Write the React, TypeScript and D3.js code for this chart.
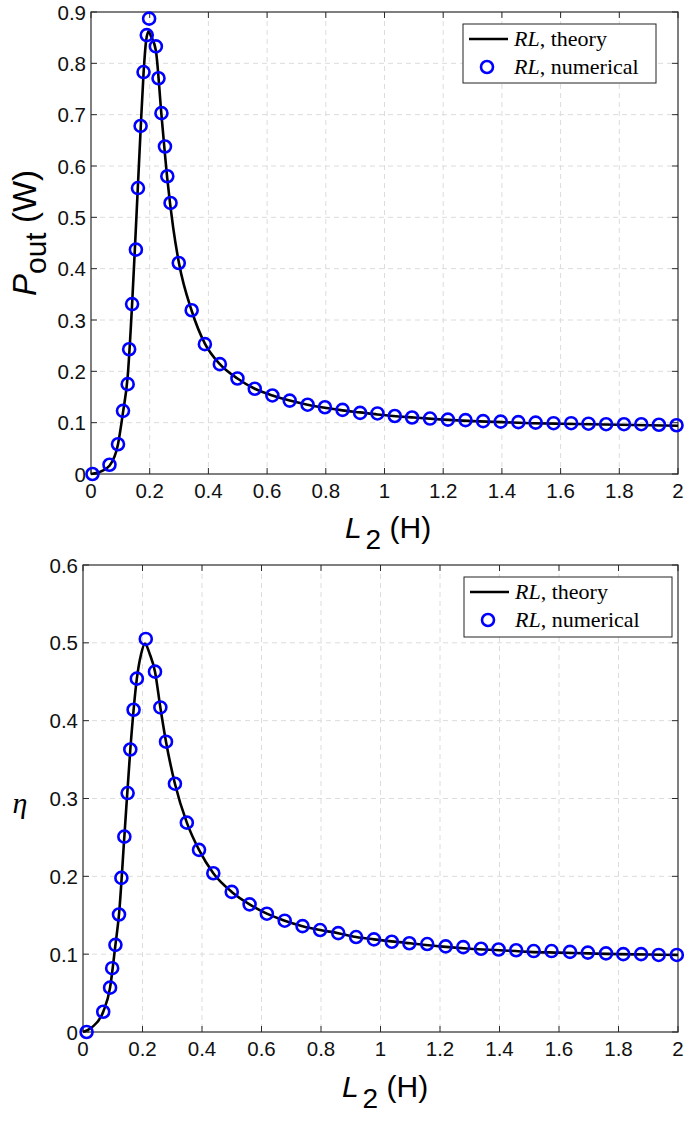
import React from "react";
import * as d3 from "d3";

// ---------- Data ----------
// Top panel: output power P_out (W) vs L2 (H)
const topNumX = [0.005,0.063,0.092,0.109,0.125,0.130,0.140,0.153,0.160,0.169,0.179,0.190,0.198,0.221,0.230,0.240,0.252,0.260,0.271,0.299,0.343,0.388,0.439,0.499,0.558,0.618,0.677,0.738,0.797,0.857,0.917,0.976,1.035,1.094,1.155,1.216,1.276,1.336,1.396,1.456,1.515,1.576,1.636,1.695,1.755,1.816,1.875,1.935,1.995];
const topNumY = [0,0.018,0.058,0.123,0.175,0.243,0.331,0.437,0.557,0.678,0.783,0.855,0.887,0.833,0.771,0.703,0.638,0.580,0.528,0.411,0.319,0.253,0.214,0.186,0.166,0.153,0.143,0.135,0.130,0.125,0.119,0.118,0.113,0.110,0.108,0.106,0.105,0.103,0.102,0.101,0.100,0.099,0.099,0.098,0.097,0.097,0.097,0.096,0.095];
const topTheoryX = [0,0.03,0.063,0.092,0.109,0.125,0.140,0.153,0.169,0.179,0.188,0.196,0.205,0.221,0.240,0.260,0.280,0.300,0.343,0.388,0.439,0.499,0.558,0.618,0.677,0.738,0.797,0.857,0.917,0.976,1.1,1.2,1.3,1.4,1.5,1.6,1.7,1.8,1.9,2.0];
const topTheoryY = [0,0.004,0.016,0.058,0.12,0.19,0.33,0.48,0.67,0.78,0.845,0.862,0.852,0.825,0.70,0.575,0.48,0.41,0.318,0.254,0.214,0.186,0.166,0.153,0.143,0.135,0.129,0.124,0.12,0.116,0.11,0.106,0.103,0.101,0.099,0.098,0.097,0.096,0.095,0.094];
const topYTicks = [0,0.1,0.2,0.3,0.4,0.5,0.6,0.7,0.8,0.9];

// Bottom panel: efficiency eta vs L2 (H)
const botNumX = [0.012,0.068,0.091,0.098,0.109,0.121,0.129,0.139,0.150,0.159,0.170,0.181,0.211,0.242,0.260,0.279,0.309,0.349,0.390,0.438,0.500,0.560,0.618,0.678,0.738,0.797,0.858,0.918,0.978,1.038,1.097,1.157,1.219,1.278,1.338,1.397,1.456,1.515,1.575,1.637,1.697,1.758,1.816,1.876,1.935,1.996];
const botNumY = [0,0.026,0.057,0.082,0.112,0.151,0.198,0.251,0.307,0.363,0.414,0.454,0.505,0.463,0.417,0.373,0.319,0.269,0.234,0.204,0.180,0.164,0.152,0.143,0.136,0.131,0.127,0.122,0.119,0.116,0.114,0.113,0.110,0.109,0.107,0.106,0.105,0.104,0.104,0.103,0.102,0.101,0.100,0.100,0.099,0.099];
const botTheoryX = [0,0.03,0.068,0.091,0.109,0.121,0.139,0.159,0.181,0.195,0.208,0.225,0.242,0.260,0.279,0.309,0.349,0.390,0.438,0.500,0.560,0.618,0.678,0.738,0.797,0.858,0.918,0.978,1.1,1.2,1.3,1.4,1.5,1.6,1.7,1.8,1.9,2.0];
const botTheoryY = [0,0.006,0.026,0.057,0.112,0.151,0.251,0.363,0.454,0.485,0.499,0.485,0.463,0.417,0.373,0.319,0.269,0.234,0.204,0.180,0.164,0.152,0.143,0.136,0.131,0.127,0.122,0.119,0.114,0.110,0.107,0.105,0.103,0.102,0.101,0.100,0.0995,0.099];
const botYTicks = [0,0.1,0.2,0.3,0.4,0.5,0.6];

const xTicks = [0,0.2,0.4,0.6,0.8,1,1.2,1.4,1.6,1.8,2];
const legendLabels = ["theory", "numerical"];

const TICK_FONT = "'Liberation Sans', Arial, sans-serif";
const SERIF = "'Liberation Serif', 'Times New Roman', serif";

type PanelProps = {
  left: number; right: number; top: number; bottom: number;
  yMax: number; yTicks: number[];
  numX: number[]; numY: number[]; thX: number[]; thY: number[];
  legend: { x: number; y: number; w: number; h: number };
  xLabelY: number; xLabelCx: number;
  yLabel: React.ReactNode;
};

function Panel(p: PanelProps) {
  const x = d3.scaleLinear().domain([0, 2]).range([p.left, p.right]);
  const y = d3.scaleLinear().domain([0, p.yMax]).range([p.bottom, p.top]);
  const line = d3.line<[number, number]>()
    .x(d => x(d[0])).y(d => y(d[1]))
    .curve(d3.curveMonotoneX);
  const thPts: [number, number][] = p.thX.map((v, i) => [v, p.thY[i]]);
  const tl = 6;
  const axisColor = "#2b2b2b";
  const gridColor = "#dcdcdc";
  const fmt = (v: number) => (v === 0 ? "0" : String(v));
  const lg = p.legend;
  return (
    <g>
      {xTicks.slice(1, -1).map(t => (
        <line key={"gx" + t} x1={x(t)} x2={x(t)} y1={p.top} y2={p.bottom}
          stroke={gridColor} strokeWidth={1} strokeDasharray="5,4" />
      ))}
      {p.yTicks.slice(1, -1).map(t => (
        <line key={"gy" + t} x1={p.left} x2={p.right} y1={y(t)} y2={y(t)}
          stroke={gridColor} strokeWidth={1} strokeDasharray="5,4" />
      ))}
      {xTicks.map(t => (
        <g key={"tx" + t}>
          <line x1={x(t)} x2={x(t)} y1={p.bottom} y2={p.bottom - tl} stroke={axisColor} />
          <line x1={x(t)} x2={x(t)} y1={p.top} y2={p.top + tl} stroke={axisColor} />
          <text x={x(t)} y={p.bottom + 24} textAnchor="middle" fontFamily={TICK_FONT} fontSize={20.5} fill="#111">{fmt(t)}</text>
        </g>
      ))}
      {p.yTicks.map(t => (
        <g key={"ty" + t}>
          <line x1={p.left} x2={p.left + tl} y1={y(t)} y2={y(t)} stroke={axisColor} />
          <line x1={p.right} x2={p.right - tl} y1={y(t)} y2={y(t)} stroke={axisColor} />
          <text x={p.left - 5} y={y(t) + 7.5} textAnchor="end" fontFamily={TICK_FONT} fontSize={20.5} fill="#111">{fmt(t)}</text>
        </g>
      ))}
      <rect x={p.left} y={p.top} width={p.right - p.left} height={p.bottom - p.top}
        fill="none" stroke={axisColor} strokeWidth={1.2} />
      <path d={line(thPts) || ""} fill="none" stroke="#000" strokeWidth={2.6} />
      {p.numX.map((v, i) => (
        <circle key={"c" + i} cx={x(v)} cy={y(p.numY[i])} r={6}
          fill="none" stroke="#0000ff" strokeWidth={2.6} />
      ))}
      <rect x={lg.x} y={lg.y} width={lg.w} height={lg.h} fill="#fff" stroke="#222" strokeWidth={1} />
      <line x1={lg.x + 6} x2={lg.x + 45} y1={lg.y + 15} y2={lg.y + 15} stroke="#000" strokeWidth={2.6} />
      <circle cx={lg.x + 24} cy={lg.y + 43} r={6} fill="none" stroke="#0000ff" strokeWidth={2.6} />
      {legendLabels.map((lab, i) => (
        <text key={lab} x={lg.x + 51} y={lg.y + 22 + i * 28} fontFamily={SERIF} fontSize={22} fill="#000">
          <tspan fontStyle="italic">RL</tspan>, {lab}
        </text>
      ))}
      <text x={p.xLabelCx} y={p.xLabelY} textAnchor="middle" fontFamily={TICK_FONT} fontSize={30} fill="#000">
        <tspan fontStyle="italic">L</tspan>
        <tspan dx={4} dy={11} fontSize={28}>2</tspan>
        <tspan dy={-11}> (H)</tspan>
      </text>
      {p.yLabel}
    </g>
  );
}

export default function App() {
  return (
    <svg width={685} height={1123} style={{ position: "absolute", left: 0, top: 0, background: "#fff" }}>
      <rect x={0} y={0} width={685} height={1123} fill="#fff" />
      <Panel left={91} right={678} top={12} bottom={474} yMax={0.9} yTicks={topYTicks}
        numX={topNumX} numY={topNumY} thX={topTheoryX} thY={topTheoryY}
        legend={{ x: 463, y: 24, w: 193, h: 59 }}
        xLabelY={538} xLabelCx={388}
        yLabel={
          <text transform="translate(36,233) rotate(-90)" textAnchor="middle" fontFamily={TICK_FONT} fontSize={33} fill="#000">
            <tspan fontStyle="italic">P</tspan>
            <tspan dy={10} fontSize={30}>out</tspan>
            <tspan dy={-10}> (W)</tspan>
          </text>
        }
      />
      <Panel left={83} right={678} top={565} bottom={1032} yMax={0.6} yTicks={botYTicks}
        numX={botNumX} numY={botNumY} thX={botTheoryX} thY={botTheoryY}
        legend={{ x: 464, y: 577, w: 208, h: 60 }}
        xLabelY={1097} xLabelCx={385}
        yLabel={
          <text x={20} y={813} textAnchor="middle" fontFamily={SERIF} fontStyle="italic" fontSize={30} fill="#000">η</text>
        }
      />
    </svg>
  );
}
